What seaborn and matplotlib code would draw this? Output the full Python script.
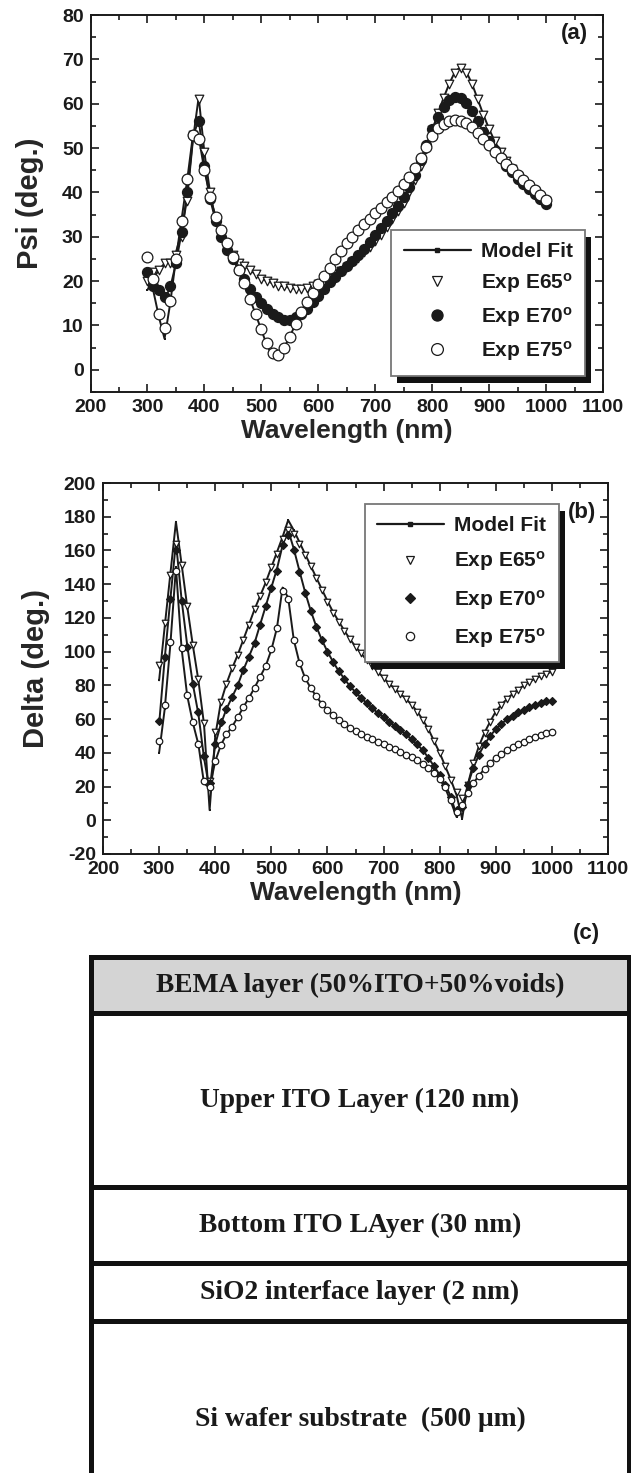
import numpy as np
import pandas as pd
import seaborn as sns
from matplotlib import pyplot as plt
from matplotlib.lines import Line2D
from matplotlib.patches import Rectangle
from matplotlib.ticker import MultipleLocator

# wavelength grid (nm), one point every 10 nm from 300 to 1000
wavelength = list(range(300, 1001, 10))

# ---- Psi (deg.) ----
psi_e65 = [20, 22, 22.5, 24, 24, 26, 30, 38, 53, 61,
           49, 40, 33.5, 30, 28, 26, 24, 23.5, 22.5, 21.5,
           20.5, 20, 19.5, 19, 18.8, 18.5, 18.3, 18.3, 18.5, 18.8,
           19.3, 20, 20.7, 21.5, 22.3, 23.2, 24.2, 25.3, 26.5, 27.7,
           29, 30.5, 32.2, 34, 35.8, 37.7, 40, 42.8, 46, 49.8,
           54, 57.8, 61.3, 64.5, 67, 68, 67, 64.5, 61, 57.5,
           54.3, 51.5, 49.2, 47, 45.2, 43.6, 42.2, 41, 40, 39,
           38]
psi_e70 = [22, 19, 18, 16.5, 19, 24, 31, 40, 53, 56,
           46, 38.5, 33.5, 30, 27, 25, 22.5, 20.5, 18.2, 16.5,
           15, 13.7, 12.6, 11.8, 11.3, 11.3, 11.8, 12.6, 13.8, 15.2,
           16.7, 18.3, 19.7, 21, 22.2, 23.4, 24.6, 25.9, 27.2, 28.8,
           30.5, 32, 33.6, 35.3, 37, 39, 41.3, 44, 47.2, 50.7,
           54.2, 57, 59.3, 60.8, 61.5, 61.3, 60.2, 58.3, 56, 53.7,
           51.5, 49.5, 47.7, 46, 44.5, 43.1, 41.9, 40.8, 39.7, 38.6,
           37.5]
psi_e75 = [25.5, 20.5, 12.5, 9.5, 15.5, 25, 33.5, 43, 53, 52,
           45, 39, 34.5, 31.5, 28.5, 25.5, 22.5, 19.5, 16, 12.5,
           9.3, 6, 3.7, 3.3, 5, 7.5, 10.3, 13, 15.2, 17.3,
           19.3, 21.2, 23, 25, 26.8, 28.5, 30, 31.5, 32.8, 34,
           35.3, 36.5, 37.8, 39, 40.3, 41.8, 43.5, 45.5, 47.8, 50.3,
           52.8, 54.5, 55.5, 56.2, 56.4, 56.2, 55.6, 54.7, 53.4, 52,
           50.6, 49.2, 47.8, 46.5, 45.2, 44, 42.8, 41.6, 40.5, 39.4,
           38.4]
psi_fit65 = [18, 20.5, 22.5, 24, 24.5, 26.5, 31, 39, 52, 61.5,
             49, 40, 33.5, 30, 28, 26, 24, 23.5, 22.5, 21.5,
             20.5, 20, 19.5, 19, 18.8, 18.5, 18.3, 18.3, 18.5, 18.8,
             19.3, 20, 20.7, 21.5, 22.3, 23.2, 24.2, 25.3, 26.5, 27.7,
             29, 30.5, 32.2, 34, 35.8, 37.7, 40, 42.8, 46, 49.8,
             54, 57.8, 61.3, 64.5, 67.2, 68.3, 67.2, 64.5, 61, 57.5,
             54.3, 51.5, 49.2, 47, 45.2, 43.6, 42.2, 41, 40, 39,
             38]
psi_fit70 = [20.5, 19, 17.5, 16, 18.5, 24, 31, 40, 52.5, 56.5,
             46, 38.5, 33.5, 30, 27, 25, 22.5, 20.5, 18.2, 16.5,
             15, 13.7, 12.6, 11.8, 11.3, 11.3, 11.8, 12.6, 13.8, 15.2,
             16.7, 18.3, 19.7, 21, 22.2, 23.4, 24.6, 25.9, 27.2, 28.8,
             30.5, 32, 33.6, 35.3, 37, 39, 41.3, 44, 47.2, 50.7,
             54.2, 57, 59.3, 60.8, 61.5, 61.3, 60.2, 58.3, 56, 53.7,
             51.5, 49.5, 47.7, 46, 44.5, 43.1, 41.9, 40.8, 39.7, 38.6,
             37.5]
psi_fit75 = [22, 18, 12, 7, 15, 25, 34, 43, 53, 52.5,
             45, 39, 34.5, 31.5, 28.5, 25.5, 22.5, 19.5, 16, 12.5,
             9, 5.5, 3, 2.8, 5, 7.5, 10.3, 13, 15.2, 17.3,
             19.3, 21.2, 23, 25, 26.8, 28.5, 30, 31.5, 32.8, 34,
             35.3, 36.5, 37.8, 39, 40.3, 41.8, 43.5, 45.5, 47.8, 50.3,
             52.8, 54.5, 55.5, 56.2, 56.4, 56.2, 55.6, 54.7, 53.4, 52,
             50.6, 49.2, 47.8, 46.5, 45.2, 44, 42.8, 41.6, 40.5, 39.4,
             38.4]

# ---- Delta (deg.) ----
delta_e65 = [92, 117, 145.5, 164, 151.5, 127, 104, 83.5, 57.5, 23,
             52.5, 70, 81, 90, 98, 107, 116, 125, 133, 141,
             150, 158, 167, 172, 170, 164, 157.5, 150.5, 143.5, 136.5,
             129.5, 123, 117.5, 112.5, 107.5, 103, 99, 95, 91.5, 88,
             84.5, 81, 78, 75, 72, 68.5, 64.5, 59.5, 54, 47,
             40, 32, 24, 17, 13, 21, 34, 44, 52, 58.5,
             64.5, 68.5, 72, 75, 77.5, 80, 82, 84, 85.5, 87,
             88]
delta_e70 = [59, 97, 131, 160, 130, 103, 81, 64, 38, 22,
             45, 58, 66, 73, 80, 89, 97, 105, 116, 127,
             138, 148, 163, 169, 160, 147.5, 135, 124, 114.5, 107,
             100, 94, 88.5, 84, 79.5, 76, 72.5, 69.5, 66.5, 63.5,
             61, 58.5, 56, 53.5, 51, 48, 45, 41.5, 37, 32,
             27, 21, 14, 6, 8, 21, 31, 39, 45, 50,
             54, 57, 60, 62, 64, 65.5, 67, 68.5, 69.5, 70.5,
             71]
delta_e75 = [47, 68.5, 106, 148, 102, 74, 58.5, 45, 23, 20,
             35, 44.5, 51, 55.5, 61, 67, 72.5, 78.5, 85, 91.5,
             101.5, 114, 136, 131, 107, 93.5, 84.5, 78.5, 73.5, 69,
             65.5, 62.5, 59.5, 57, 55, 53, 51, 49.5, 48, 46.5,
             45, 43.5, 42, 40.5, 39, 37.5, 35.5, 33.5, 31, 28,
             24.5, 19.5, 12, 5, 9, 16, 22, 26.5, 30.5, 34,
             37, 39.5, 41.5, 43.5, 45, 46.5, 48, 49.5, 50.5, 51.5,
             52.5]
delta_fit65 = [83, 115, 146, 177, 152, 127, 104, 83, 57, 6,
               50, 70, 81, 90, 98, 107, 116, 125, 133, 141,
               150, 159, 168, 178, 172, 165, 158, 151, 144, 137,
               130, 123.5, 118, 112.5, 107.5, 103, 99, 95, 91.5, 88,
               84.5, 81, 78, 75, 72, 68.5, 64.5, 59.5, 54, 47,
               40, 32, 24, 15, 1, 21, 34, 44, 52, 58.5,
               64.5, 68.5, 72, 75, 77.5, 80, 82, 84, 85.5, 87,
               88]
delta_fit70 = [57, 96, 131, 165, 131, 104, 81, 63, 37, 18,
               45, 57, 66, 73, 80, 89, 97, 105, 116, 127,
               138, 149, 163, 172, 161, 148, 135.5, 124.5, 115, 107,
               100, 94, 88.5, 84, 79.5, 76, 72.5, 69.5, 66.5, 63.5,
               61, 58.5, 56, 53.5, 51, 48, 45, 41.5, 37, 32,
               27, 21, 14, 3, 7, 21, 31, 39, 45, 50,
               54, 57, 60, 62, 64, 65.5, 67, 68.5, 69.5, 70.5,
               71]
delta_fit75 = [40, 66, 104, 150, 102, 74, 58, 45, 22, 19,
               35, 44.5, 51, 55.5, 61, 67, 72.5, 78.5, 85, 91.5,
               101, 114, 138, 132, 107, 93.5, 84.5, 78.5, 73.5, 69,
               65.5, 62.5, 59.5, 57, 55, 53, 51, 49.5, 48, 46.5,
               45, 43.5, 42, 40.5, 39, 37.5, 35.5, 33.5, 31, 28,
               24.5, 19, 11, 2, 9, 16, 22, 26.5, 30.5, 34,
               37, 39.5, 41.5, 43.5, 45, 46.5, 48, 49.5, 50.5, 51.5,
               52.5]

# ---- layer stack (c) ----
layer_names = ["BEMA layer (50%ITO+50%voids)", "Upper ITO Layer (120 nm)",
               "Bottom ITO LAyer (30 nm)", "SiO2 interface layer (2 nm)",
               "Si wafer substrate  (500 \u03bcm)"]
layer_draw_h = [56, 174, 76, 58, 196]
layer_fill = ["#d4d4d4", "white", "white", "white", "white"]

legend_labels = ["Model Fit", "Exp E65$^{o}$", "Exp E70$^{o}$", "Exp E75$^{o}$"]

sns.set_style("ticks")
plt.rcParams['font.family'] = ['Liberation Sans', 'DejaVu Sans']
plt.rcParams['font.weight'] = 'bold'
plt.rcParams['axes.labelweight'] = 'bold'
plt.rcParams['axes.unicode_minus'] = False
plt.rcParams['mathtext.fontset'] = 'custom'
plt.rcParams['mathtext.rm'] = 'Liberation Sans:bold'
plt.rcParams['mathtext.it'] = 'Liberation Sans:bold'
plt.rcParams['mathtext.default'] = 'rm'
plt.rcParams['text.color'] = '#1a1a1a'

W, H = 631, 1473
fig = plt.figure(figsize=(W / 100, H / 100), dpi=100)


def px_axes(x0, x1, y0, y1):
    return fig.add_axes([x0 / W, 1 - y1 / H, (x1 - x0) / W, (y1 - y0) / H])


def style_axes(ax, ymaj, ymin):
    ax.xaxis.set_major_locator(MultipleLocator(100))
    ax.xaxis.set_minor_locator(MultipleLocator(50))
    ax.yaxis.set_major_locator(MultipleLocator(ymaj))
    ax.yaxis.set_minor_locator(MultipleLocator(ymin))
    ax.tick_params(which='both', direction='in', top=True, right=True,
                   width=1.2, colors='#1a1a1a', labelsize=14, pad=5)
    ax.tick_params(which='major', length=6)
    ax.tick_params(which='minor', length=3.5)
    for s in ax.spines.values():
        s.set_linewidth(1.4)
        s.set_color('#1a1a1a')
    ax.set_xlim(200, 1100)
    ax.set_xlabel("Wavelength (nm)", fontsize=19, labelpad=2)


def add_shadow(ax, leg, dx=6, dy=7):
    fig.canvas.draw()
    bb = leg.get_window_extent()
    inv = ax.transAxes.inverted()
    (x0, y0), (x1, y1) = inv.transform([[bb.x0, bb.y0], [bb.x1, bb.y1]])
    axbb = ax.get_window_extent()
    ox, oy = dx / axbb.width, dy / axbb.height
    ax.add_patch(Rectangle((x0 + ox, y0 - oy), x1 - x0, y1 - y0,
                           transform=ax.transAxes, facecolor='#111111',
                           edgecolor='none', zorder=4.9, clip_on=False))


def draw_panel(ax, fits, exps, markers, sizes, faces, lw):
    for f in fits:
        sns.lineplot(x=wavelength, y=f, ax=ax, color='#1a1a1a', lw=lw,
                     marker='s', markersize=2, markeredgewidth=0,
                     legend=False, zorder=2)
    for e, m, s, fc in zip(exps, markers, sizes, faces):
        sns.scatterplot(x=wavelength, y=e, ax=ax, marker=m, s=s, color=fc,
                        edgecolor='#1a1a1a', linewidth=0.9, zorder=3,
                        legend=False)


def make_legend(ax, markers, msizes, faces, anchor, spacing):
    handles = [Line2D([], [], color='#1a1a1a', lw=1.6, marker='s',
                      markersize=3.5)]
    for m, ms, fc in zip(markers, msizes, faces):
        handles.append(Line2D([], [], ls='none', marker=m, markersize=ms,
                              markerfacecolor=fc, markeredgecolor='#1a1a1a',
                              markeredgewidth=0.9))
    leg = ax.legend(handles, legend_labels, loc='upper left',
                    bbox_to_anchor=anchor, fontsize=15, frameon=True,
                    fancybox=False, edgecolor='#777777', framealpha=1,
                    borderpad=0.6, handlelength=3.2, handletextpad=0.5,
                    labelspacing=spacing, borderaxespad=0, numpoints=1)
    leg.get_frame().set_linewidth(1.3)
    leg.set_zorder(5)
    return leg


# ---------------- panel (a) ----------------
ax1 = px_axes(90.5, 603, 15, 392)
draw_panel(ax1, [psi_fit65, psi_fit70, psi_fit75],
           [psi_e65, psi_e70, psi_e75], ['v', 'o', 'o'], [38, 52, 60],
           ['white', '#1a1a1a', 'white'], 1.4)
style_axes(ax1, 10, 5)
ax1.set_ylim(-5, 80)
ax1.set_ylabel("Psi (deg.)", fontsize=21, labelpad=13)
ax1.text(0.945, 0.95, "(a)", transform=ax1.transAxes, ha='center',
         va='center', fontsize=16)
leg1 = make_legend(ax1, ['v', 'o', 'o'], [7, 8, 8.5],
                   ['white', '#1a1a1a', 'white'], (0.587, 0.431), 0.48)

# ---------------- panel (b) ----------------
ax2 = px_axes(103, 608, 483, 854)
draw_panel(ax2, [delta_fit65, delta_fit70, delta_fit75],
           [delta_e65, delta_e70, delta_e75], ['v', 'D', 'o'], [22, 16, 22],
           ['white', '#1a1a1a', 'white'], 1.4)
style_axes(ax2, 20, 10)
ax2.set_ylim(-20, 200)
ax2.set_ylabel("Delta (deg.)", fontsize=21, labelpad=10)
ax2.text(0.948, 0.92, "(b)", transform=ax2.transAxes, ha='center',
         va='center', fontsize=16)
leg2 = make_legend(ax2, ['v', 'D', 'o'], [6, 5, 6],
                   ['white', '#1a1a1a', 'white'], (0.518, 0.944), 0.68)

add_shadow(ax1, leg1)
add_shadow(ax2, leg2)

# ---------------- panel (c) ----------------
ax3 = px_axes(91, 629, 957, 1473)
ax3.set_axis_off()
bottoms = np.cumsum([0] + layer_draw_h[:-1])
ax3.bar([0.5] * len(layer_names), layer_draw_h, bottom=bottoms, width=1.0,
        color=layer_fill, edgecolor='#111111', linewidth=3.6, clip_on=False)
for name, b, h in zip(layer_names, bottoms, layer_draw_h):
    ax3.text(0.5, b + h / 2, name, ha='center', va='center', fontsize=19.8,
             family=['Liberation Serif', 'DejaVu Serif'], weight='bold')
ax3.set_xlim(0, 1)
ax3.set_ylim(516, 0)
fig.text(586 / W, 1 - 934 / H, "(c)", ha='center', va='center', fontsize=16)

fig.savefig("out.png", dpi=100)
